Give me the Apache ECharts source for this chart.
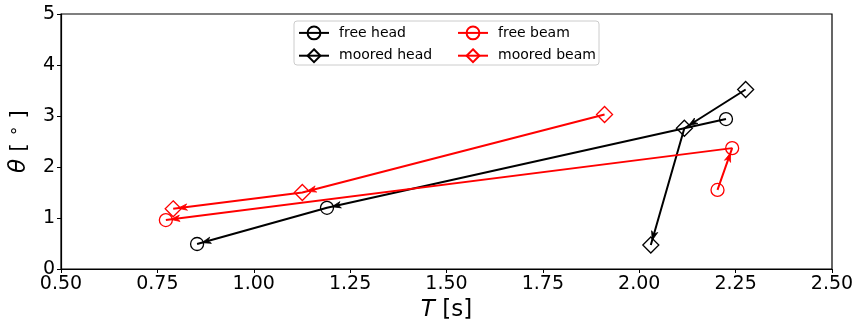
<!DOCTYPE html>
<html><head><meta charset="utf-8">
<script src="https://cdn.jsdelivr.net/npm/echarts@6/dist/echarts.min.js"></script>
<style>html,body{margin:0;padding:0;background:#fff}#c{width:856px;height:327px}</style>
</head><body><div id="c"></div>
<script>
const xTicks = [0.5, 0.75, 1.0, 1.25, 1.5, 1.75, 2.0, 2.25, 2.5];
const yTicks = [0, 1, 2, 3, 4, 5];
const freeHeadT = [2.225, 1.19, 0.853];
const freeHeadTheta = [2.94, 1.20, 0.49];
const mooredHeadT = [2.276, 2.117, 2.030];
const mooredHeadTheta = [3.52, 2.76, 0.47];
const freeBeamT = [2.203, 2.241, 0.772];
const freeBeamTheta = [1.55, 2.37, 0.96];
const mooredBeamT = [1.910, 1.126, 0.791];
const mooredBeamTheta = [3.03, 1.50, 1.18];

const FONT = 'DejaVu Sans';
function pts(xs, ys){ return xs.map((x,i)=>[x, ys[i]]); }
function segs(xs, ys){ const s=[]; for(let i=0;i<xs.length-1;i++) s.push([xs[i],ys[i],xs[i+1],ys[i+1]]); return s; }

function lineSeries(name, xs, ys, color, symbol, size){
  return {
    name, type:'line', data: pts(xs, ys), symbol, symbolSize: size, showSymbol:true,
    lineStyle:{color, width:2}, itemStyle:{color:'none', borderColor:color, borderWidth:1.3},
    silent:true, z:2, emphasis:{disabled:true}
  };
}
function arrowSeries(xs, ys, color, shrink){
  return {
    type:'custom', data: segs(xs, ys), silent:true, z:5,
    encode:{x:[0,2], y:[1,3]},
    renderItem(params, api){
      const p1 = api.coord([api.value(0), api.value(1)]);
      const p2 = api.coord([api.value(2), api.value(3)]);
      let dx=p2[0]-p1[0], dy=p2[1]-p1[1]; const L=Math.hypot(dx,dy); dx/=L; dy/=L;
      const nx=-dy, ny=dx;
      const tip=[p2[0]-dx*shrink, p2[1]-dy*shrink];
      const len=9, w=3.2;
      const base=[tip[0]-dx*len, tip[1]-dy*len];
      const notch=[tip[0]-dx*len*0.7, tip[1]-dy*len*0.7];
      return {type:'polygon', shape:{points:[tip,[base[0]+nx*w,base[1]+ny*w],notch,[base[0]-nx*w,base[1]-ny*w]]},
        style:{fill:color, stroke:color, lineWidth:0.8}};
    }
  };
}

const chart = echarts.init(document.getElementById('c'), null, {renderer:'canvas'});
chart.setOption({
  animation:false,
  backgroundColor:'#fff',
  grid:{left:61, right:24, top:14, bottom:58, outerBoundsMode:'none', containLabel:false, show:true, borderColor:'#000', borderWidth:1.2, backgroundColor:'transparent'},
  xAxis:{type:'value', min:xTicks[0], max:xTicks[xTicks.length-1], interval:0.25,
    name:'{i|T} [s]', nameLocation:'middle', nameGap:29,
    nameTextStyle:{fontFamily:FONT, fontSize:23, color:'#000', rich:{i:{fontFamily:FONT, fontSize:23, fontStyle:'italic', color:'#000'}}},
    axisLine:{show:true, lineStyle:{color:'#000', width:1.2}},
    axisTick:{show:true, length:4, lineStyle:{color:'#000', width:1}},
    axisLabel:{fontFamily:FONT, fontSize:19, color:'#000', margin:6, formatter:v=>v.toFixed(2)},
    splitLine:{show:false}},
  yAxis:{type:'value', min:yTicks[0], max:yTicks[yTicks.length-1], interval:1,
    name:'{i|θ} [ {s|∘} ]', nameLocation:'middle', nameGap:29, nameRotate:90,
    nameTextStyle:{fontFamily:FONT, fontSize:22, color:'#000', rich:{
      i:{fontFamily:FONT, fontSize:23, fontStyle:'italic', color:'#000'},
      s:{fontFamily:FONT, fontSize:17, color:'#000', padding:[0,0,9,0]}}},
    axisLine:{show:true, lineStyle:{color:'#000', width:1.2}},
    axisTick:{show:true, length:4, lineStyle:{color:'#000', width:1}},
    axisLabel:{fontFamily:FONT, fontSize:19, color:'#000', margin:6},
    splitLine:{show:false}},
  graphic:[{type:'rect', shape:{x:294, y:21, width:305, height:44, r:3}, style:{fill:'rgba(255,255,255,0.8)', stroke:'#ccc', lineWidth:1}, z:10}],
  legend:[
    {orient:'vertical', left:293, top:19, itemWidth:30, itemHeight:16, itemGap:5, z:20,
      data:['free head','moored head'], textStyle:{fontFamily:FONT, fontSize:14, lineHeight:14, color:'#000', padding:[0,0,0,5]}, selectedMode:false},
    {orient:'vertical', left:452, top:19, itemWidth:30, itemHeight:16, itemGap:5, z:20,
      data:['free beam','moored beam'], textStyle:{fontFamily:FONT, fontSize:14, lineHeight:14, color:'#000', padding:[0,0,0,5]}, selectedMode:false}
  ],
  series:[
    lineSeries('free head', freeHeadT, freeHeadTheta, '#000', 'circle', 13),
    lineSeries('moored head', mooredHeadT, mooredHeadTheta, '#000', 'diamond', 16),
    lineSeries('free beam', freeBeamT, freeBeamTheta, '#ff0000', 'circle', 13),
    lineSeries('moored beam', mooredBeamT, mooredBeamTheta, '#ff0000', 'diamond', 16),
    arrowSeries(freeHeadT, freeHeadTheta, '#000', 5),
    arrowSeries(mooredHeadT, mooredHeadTheta, '#000', 5),
    arrowSeries(freeBeamT, freeBeamTheta, '#ff0000', 5),
    arrowSeries(mooredBeamT, mooredBeamTheta, '#ff0000', 5)
  ]
});
</script></body></html>
